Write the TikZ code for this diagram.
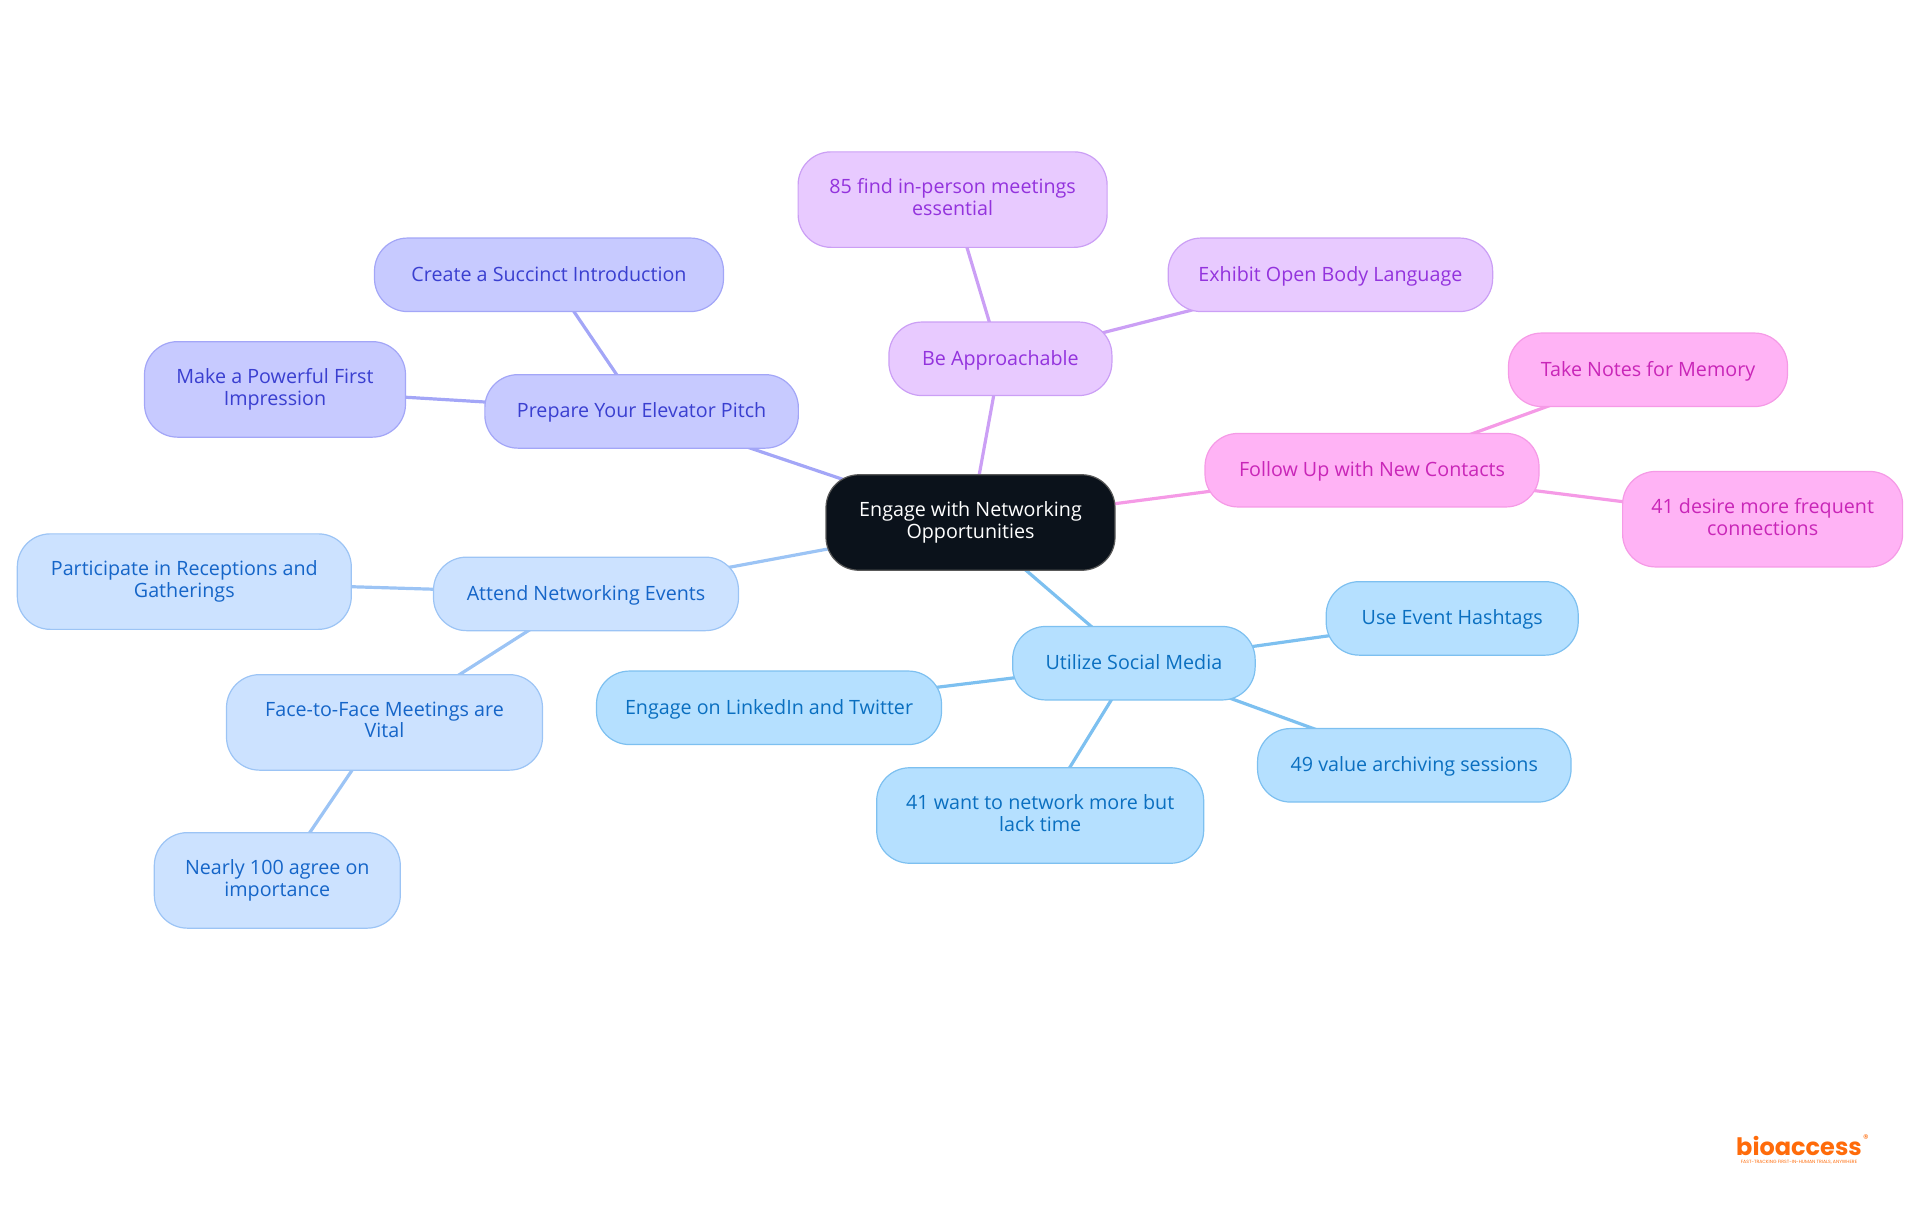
\documentclass[tikz,border=0pt]{standalone}
\usepackage{xcolor}
\usepackage{fontspec}
\setmainfont{Open Sans}
\newfontfamily\logofont{Poppins}
\usetikzlibrary{backgrounds}

\definecolor{rootfill}{HTML}{0B121B}
\definecolor{pitchfill}{HTML}{C7CAFF}
\definecolor{pitchline}{HTML}{A3A6F7}
\definecolor{pitchtext}{HTML}{3A3FD0}
\definecolor{approachfill}{HTML}{E8CAFF}
\definecolor{approachline}{HTML}{CB9FF5}
\definecolor{approachtext}{HTML}{9333DD}
\definecolor{followfill}{HTML}{FFB3F5}
\definecolor{followline}{HTML}{F59AE6}
\definecolor{followtext}{HTML}{C926B8}
\definecolor{eventfill}{HTML}{CCE2FF}
\definecolor{eventline}{HTML}{9CC4F5}
\definecolor{eventtext}{HTML}{1565C8}
\definecolor{socialfill}{HTML}{B5E0FF}
\definecolor{socialline}{HTML}{7DC0F0}
\definecolor{socialtext}{HTML}{0A6FC0}
\definecolor{logoorange}{HTML}{FF6B0A}

\tikzset{
  mapbox/.style={draw, line width=1.2pt, rounded corners=33pt, align=center, inner sep=0pt, minimum height=73.5pt,
    font=\fontsize{19.7}{21.7}\selectfont,
    execute at begin node={\rule{0pt}{18pt}}, execute at end node={\rule[-5pt]{0pt}{5pt}}},
  tallbox/.style={mapbox, minimum height=95.5pt},
  pitchbox/.style={fill=pitchfill, draw=pitchline, text=pitchtext},
  approachbox/.style={fill=approachfill, draw=approachline, text=approachtext},
  followbox/.style={fill=followfill, draw=followline, text=followtext},
  eventbox/.style={fill=eventfill, draw=eventline, text=eventtext},
  socialbox/.style={fill=socialfill, draw=socialline, text=socialtext},
  link/.style={line width=3.2pt}
}

\begin{document}
\begin{tikzpicture}[x=1pt,y=-1pt]
  \useasboundingbox (0,0) rectangle (1920,1215);

  \node[tallbox, fill=rootfill, draw=gray!70!black, text=white, minimum width=289pt] (root) at (970.5,522.5) {Engage with Networking\\Opportunities};

  \node[mapbox, pitchbox, minimum width=313.5pt] (pitch) at (641.6,411.4) {Prepare Your Elevator Pitch};
  \node[mapbox, pitchbox, minimum width=349pt] (intro) at (549,274.8) {Create a Succinct Introduction};
  \node[tallbox, pitchbox, minimum width=261pt] (impress) at (275,389.4) {Make a Powerful First\\Impression};

  \node[mapbox, approachbox, minimum width=223pt] (approach) at (1000.4,358.8) {Be Approachable};
  \node[tallbox, approachbox, minimum width=309pt] (inperson) at (952.6,199.6) {85 find in-person meetings\\essential};
  \node[mapbox, approachbox, minimum width=324.5pt] (body) at (1330.4,274.8) {Exhibit Open Body Language};

  \node[mapbox, followbox, minimum width=334pt] (follow) at (1372,470.2) {Follow Up with New Contacts};
  \node[mapbox, followbox, minimum width=279pt] (notes) at (1648,369.8) {Take Notes for Memory};
  \node[tallbox, followbox, minimum width=280pt] (frequent) at (1762.6,519.2) {41 desire more frequent\\connections};

  \node[mapbox, eventbox, minimum width=305pt] (events) at (586,593.9) {Attend Networking Events};
  \node[tallbox, eventbox, minimum width=334pt] (receptions) at (184.3,581.6) {Participate in Receptions and\\Gatherings};
  \node[tallbox, eventbox, minimum width=316pt] (facetoface) at (384.5,722.4) {Face-to-Face Meetings are\\Vital};
  \node[tallbox, eventbox, minimum width=246pt] (agree) at (277.3,880.4) {Nearly 100 agree on\\importance};

  \node[mapbox, socialbox, minimum width=242.5pt] (social) at (1133.9,663.2) {Utilize Social Media};
  \node[mapbox, socialbox, minimum width=252pt] (hashtags) at (1452.2,618.4) {Use Event Hashtags};
  \node[mapbox, socialbox, minimum width=345pt] (linkedin) at (769,707.8) {Engage on LinkedIn and Twitter};
  \node[tallbox, socialbox, minimum width=327pt] (lacktime) at (1040.2,815.5) {41 want to network more but\\lack time};
  \node[mapbox, socialbox, minimum width=313.5pt] (archive) at (1414.3,765.3) {49 value archiving sessions};

  % links go under the boxes
  \begin{scope}[on background layer]
    \draw[link, pitchline] (root.center) -- (pitch.center);
    \draw[link, pitchline] (pitch.center) -- (intro.center);
    \draw[link, pitchline] (pitch.center) -- (impress.center);
    \draw[link, approachline] (root.center) -- (approach.center);
    \draw[link, approachline] (approach.center) -- (inperson.center);
    \draw[link, approachline] (approach.center) -- (body.center);
    \draw[link, followline] (root.center) -- (follow.center);
    \draw[link, followline] (follow.center) -- (notes.center);
    \draw[link, followline] (follow.center) -- (frequent.center);
    \draw[link, eventline] (root.center) -- (events.center);
    \draw[link, eventline] (events.center) -- (receptions.center);
    \draw[link, eventline] (events.center) -- (facetoface.center);
    \draw[link, eventline] (facetoface.center) -- (agree.center);
    \draw[link, socialline] (root.center) -- (social.center);
    \draw[link, socialline] (social.center) -- (hashtags.center);
    \draw[link, socialline] (social.center) -- (linkedin.center);
    \draw[link, socialline] (social.center) -- (lacktime.center);
    \draw[link, socialline] (social.center) -- (archive.center);
  \end{scope}

  % logo
  \node[text=logoorange, inner sep=0pt, anchor=base, font=\logofont\bfseries\fontsize{24}{25}\selectfont] (logo) at (1799,1155) {bioaccess};
  \node[text=logoorange, inner sep=0pt, font=\logofont\fontsize{11}{12}\selectfont] (regmark) at (1866,1139) {®};
  \node[text=logoorange, inner sep=0pt, font=\logofont\fontsize{4.6}{5}\selectfont] (tagline) at (1799,1162) {FAST-TRACKING FIRST-IN-HUMAN TRIALS, ANYWHERE};
\end{tikzpicture}
\end{document}
